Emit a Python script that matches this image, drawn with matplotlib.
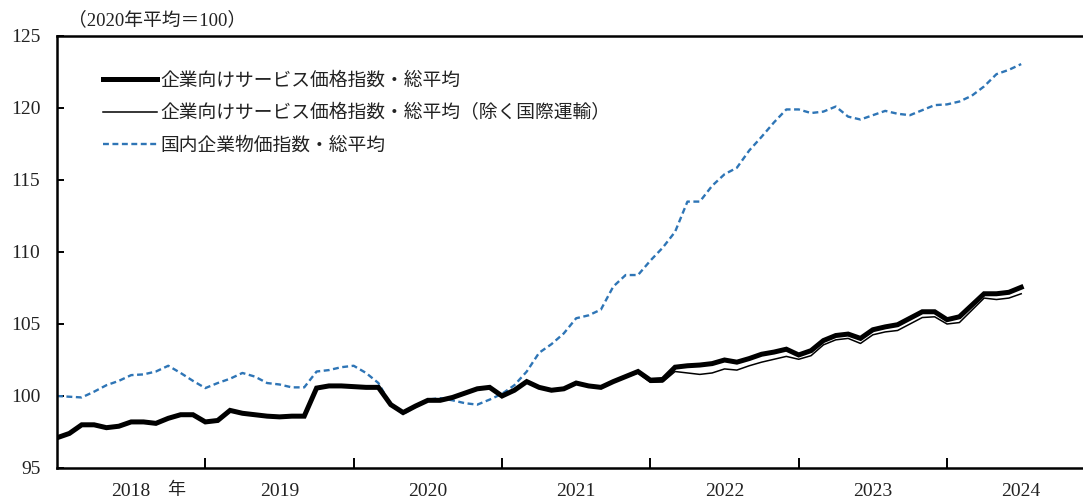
import matplotlib
matplotlib.use("Agg")
import matplotlib.pyplot as plt
from matplotlib.lines import Line2D

# ---- data (monthly, Jan 2018 = index 0 ... Jul 2024) ----
years = ["2018", "2019", "2020", "2021", "2022", "2023", "2024"]

sppi_total = [
    97.1, 97.4, 98.0, 98.0, 97.8, 97.9, 98.2, 98.2, 98.1, 98.45, 98.7, 98.7,
    98.2, 98.3, 99.0, 98.8, 98.7, 98.6, 98.55, 98.6, 98.6, 100.55, 100.7, 100.7,
    100.65, 100.6, 100.6, 99.4, 98.85, 99.3, 99.7, 99.7, 99.9, 100.2, 100.5, 100.6,
    100.0, 100.4, 101.0, 100.6, 100.4, 100.5, 100.9, 100.7, 100.6, 101.0, 101.35, 101.7,
    101.1, 101.15, 102.0, 102.1, 102.15, 102.25, 102.5, 102.35, 102.6, 102.9, 103.05, 103.25,
    102.85, 103.15, 103.85, 104.2, 104.3, 104.0, 104.6, 104.8, 104.95, 105.4, 105.85, 105.85,
    105.3, 105.5, 106.3, 107.1, 107.1, 107.2, 107.55,
]

sppi_ex_intl = [
    97.1, 97.4, 98.0, 98.0, 97.8, 97.9, 98.2, 98.2, 98.1, 98.45, 98.7, 98.7,
    98.2, 98.3, 99.0, 98.8, 98.7, 98.6, 98.55, 98.6, 98.6, 100.55, 100.7, 100.7,
    100.65, 100.6, 100.6, 99.4, 98.85, 99.3, 99.7, 99.7, 99.9, 100.2, 100.5, 100.6,
    100.0, 100.4, 101.0, 100.6, 100.4, 100.5, 100.9, 100.7, 100.6, 100.95, 101.3, 101.6,
    100.95, 100.97, 101.7, 101.6, 101.5, 101.6, 101.88, 101.8, 102.1, 102.35, 102.55, 102.75,
    102.55, 102.8, 103.55, 103.9, 104.0, 103.65, 104.25, 104.45, 104.55, 105.0, 105.45, 105.5,
    105.0, 105.1, 105.95, 106.8, 106.7, 106.8, 107.1,
]

cgpi_total = [
    100.0, 99.95, 99.9, 100.3, 100.75, 101.05, 101.45, 101.5, 101.7, 102.1, 101.6, 101.05,
    100.55, 100.9, 101.2, 101.6, 101.35, 100.9, 100.8, 100.6, 100.6, 101.7, 101.8, 102.0,
    102.1, 101.6, 100.9, 99.4, 98.75, 99.25, 99.75, 99.85, 99.7, 99.5, 99.4, 99.75,
    100.15, 100.75, 101.7, 103.0, 103.6, 104.35, 105.4, 105.6, 106.0, 107.6, 108.4, 108.4,
    109.4, 110.3, 111.4, 113.5, 113.5, 114.6, 115.4, 115.85, 117.05, 118.0, 119.0, 119.9,
    119.9, 119.65, 119.75, 120.1, 119.4, 119.2, 119.5, 119.8, 119.6, 119.5, 119.85, 120.2,
    120.25, 120.45, 120.85, 121.5, 122.35, 122.65, 123.05,
]

labels = [
    "企業向けサービス価格指数・総平均",
    "企業向けサービス価格指数・総平均（除く国際運輸）",
    "国内企業物価指数・総平均",
]

SERIF = ["Liberation Serif", "Noto Sans CJK JP"]
CJK = ["Noto Sans CJK JP", "DejaVu Sans"]
BLUE = "#2E75B6"

W, H = 1083, 499
fig = plt.figure(figsize=(W / 100, H / 100), dpi=100)
ax = fig.add_axes([57 / W, 31 / H, (W - 57) / W, 432 / H])

x1 = list(range(len(sppi_total)))
x2 = list(range(len(sppi_ex_intl)))
x3 = list(range(len(cgpi_total)))

ax.plot(x1, sppi_total, color="black", lw=3.6, solid_joinstyle="miter", zorder=3)
ax.plot(x2, sppi_ex_intl, color="black", lw=1.1, zorder=4)
ax.plot(x3, cgpi_total, color=BLUE, lw=1.7, dashes=(2.5, 1.5), zorder=2)

ax.set_xlim(0, 83)
ax.set_ylim(95, 125)

for s in ["left", "top", "bottom"]:
    ax.spines[s].set_linewidth(1.8)
    ax.spines[s].set_color("black")
ax.spines["right"].set_visible(False)

ax.set_yticks([95, 100, 105, 110, 115, 120, 125])
ax.set_yticklabels(["95", "100", "105", "110", "115", "120", "125"])
ax.tick_params(axis="y", direction="in", length=5, width=1.4, pad=12,
               labelsize=14, labelcolor="#222222")
for lbl in ax.get_yticklabels():
    lbl.set_family(SERIF)

ax.set_xticks([12, 24, 36, 48, 60, 72])
ax.set_xticklabels([])
ax.tick_params(axis="x", which="major", direction="in", length=7, width=1.4)
ax.set_xticks([6 + 12 * k for k in range(len(years))], minor=True)
ax.set_xticklabels(years, minor=True)
ax.tick_params(axis="x", which="minor", length=0, pad=17.2, labelsize=14,
               labelcolor="#222222")
for lbl in ax.get_xticklabels(minor=True):
    lbl.set_family(SERIF)
    lbl.set_va("center")

ax.text(9.6, -22 / 432, "年", transform=ax.get_xaxis_transform(),
        ha="center", va="center", fontsize=13, family=CJK, color="#222222")

handles = [
    Line2D([], [], color="black", lw=3.6),
    Line2D([], [], color="black", lw=1.1),
    Line2D([], [], color=BLUE, lw=1.7, dashes=(2.5, 1.5)),
]
leg = ax.legend(handles, labels, loc="upper left", bbox_to_anchor=(46 / 1026, 0.923),
                frameon=False, borderpad=0, borderaxespad=0, handlelength=2.9,
                handletextpad=0.15, labelspacing=0.63,
                prop={"family": CJK, "size": 13.5})
for t in leg.get_texts():
    t.set_color("#222222")

fig.text(68 / W, 1 - 20 / H, "（2020年平均＝100）", ha="left", va="center",
         fontsize=13.5, family=SERIF, color="#222222")

fig.savefig("out.png", dpi=100)
